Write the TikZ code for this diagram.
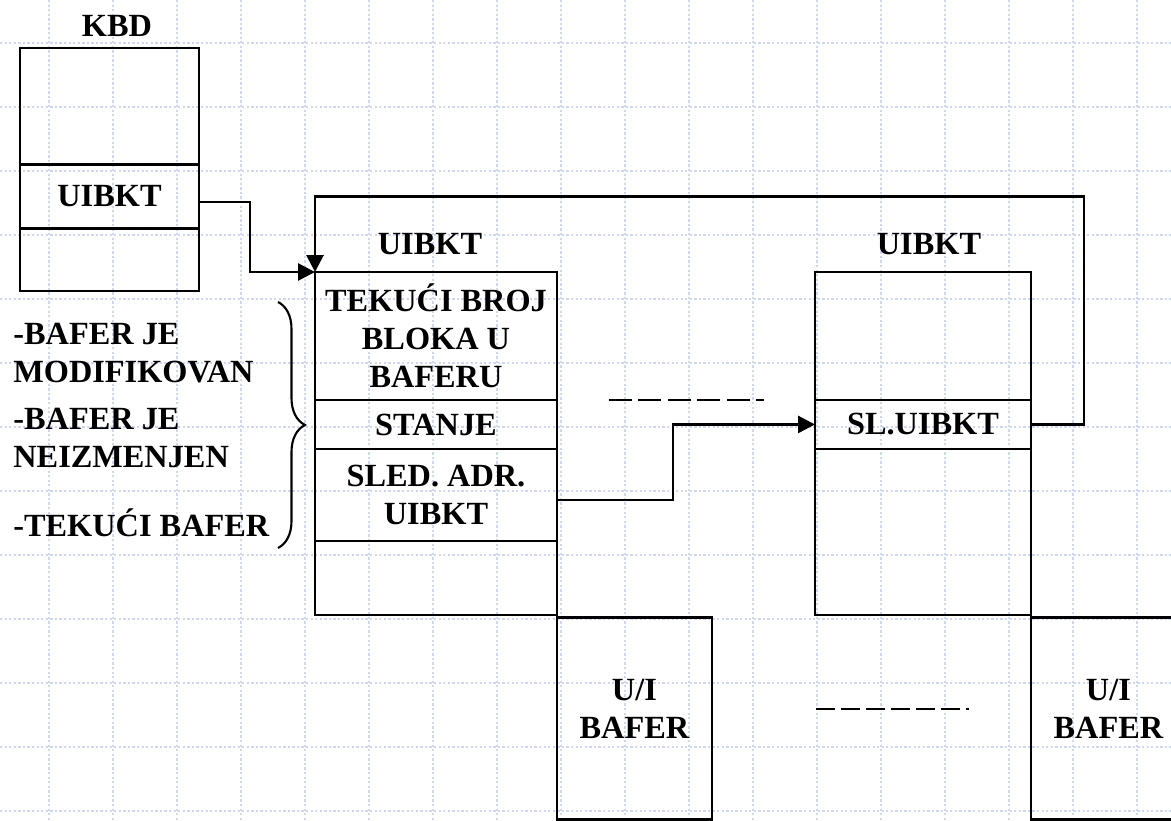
\documentclass[tikz,border=0pt]{standalone}
\usepackage{fontspec}
\setmainfont{Liberation Serif}
\usetikzlibrary{arrows.meta, positioning, decorations.pathreplacing}

\definecolor{gridblue}{RGB}{203,214,248}
\newcommand{\boxfont}{\fontsize{18.4pt}{21.6pt}\selectfont\bfseries}

\tikzset{
  field/.style={draw, line width=1.6pt, inner sep=0pt, outer sep=0pt, align=center, font=\boxfont},
  lbl/.style={inner sep=0pt, font=\boxfont},
  link/.style={line width=1.6pt, -{Triangle[length=0.34cm,width=0.34cm]}},
  gridline/.style={gridblue, line width=0.75pt, dash pattern=on 1.3pt off 1.3pt},
  dots/.style={line width=1.6pt},
}

\begin{document}
\begin{tikzpicture}[x=0.02cm, y=-0.02cm]
  \clip (0,0) rectangle (1171,821);
  \fill[white] (0,0) rectangle (1171,821);
  % grid
  \foreach \gx in {49,113,...,1137}
    \draw[gridline] (\gx,0) -- (\gx,821);
  \foreach \gy in {43,107,...,811}
    \draw[gridline] (0,\gy) -- (1171,\gy);

  % KBD
  \node[field, minimum width=3.58cm, minimum height=2.33cm, anchor=north west] (kbdTop) at (20,48) {};
  \node[field, minimum width=3.58cm, minimum height=1.28cm, below=0pt of kbdTop] (kbdU) {UIBKT};
  \node[field, minimum width=3.58cm, minimum height=1.25cm, below=0pt of kbdU] (kbdEnd) {};
  \node[lbl, above=0.23cm of kbdTop, xshift=0.15cm] (kbd) {KBD};

  % first UIBKT
  \node[field, minimum width=4.84cm, minimum height=2.56cm, anchor=north west] (tekuci) at (315,272) {TEKUĆI BROJ\\BLOKA U\\BAFERU};
  \node[field, minimum width=4.84cm, minimum height=0.98cm, below=0pt of tekuci] (stanje) {STANJE};
  \node[field, minimum width=4.84cm, minimum height=1.84cm, below=0pt of stanje] (sled) {SLED. ADR.\\UIBKT};
  \node[field, minimum width=4.84cm, minimum height=1.48cm, below=0pt of sled] (uibEnd) {};
  \node[lbl, above=0.34cm of tekuci, xshift=-0.12cm] (uibA) {UIBKT};

  % next UIBKT
  \node[field, minimum width=4.32cm, minimum height=2.56cm, anchor=north west] (slTop) at (815,272) {};
  \node[field, minimum width=4.32cm, minimum height=0.98cm, below=0pt of slTop] (slu) {SL.UIBKT};
  \node[field, minimum width=4.32cm, minimum height=3.32cm, below=0pt of slu] (slEnd) {};
  \node[lbl, above=0.34cm of slTop, xshift=0.12cm] (uibB) {UIBKT};

  % buffers
  \node[field, minimum width=3.1cm, minimum height=4.04cm, text depth=0.4cm, anchor=north west] (bufA) at ([yshift=-0.05cm]uibEnd.south east) {U/I\\BAFER};
  \node[field, minimum width=3.1cm, minimum height=4.04cm, text depth=0.4cm, anchor=north west] (bufB) at ([yshift=-0.05cm]slEnd.south east) {U/I\\BAFER};

  % states
  \node[lbl, anchor=west, align=left] (stMod) at (13,353) {-BAFER JE\\MODIFIKOVAN};
  \node[lbl, anchor=west, align=left] (stNeiz) at (13,438) {-BAFER JE\\NEIZMENJEN};
  \node[lbl, anchor=west, align=left] (stTek) at (13,523) {-TEKUĆI BAFER};
  \draw[line width=1.2pt, decorate, decoration={brace, amplitude=0.54cm}] (278,302) -- (278,548);

  % links
  \draw[link] ([yshift=-0.11cm]kbdU.east) -- ++(51,0) |- (tekuci.north west);
  \draw[link] ([yshift=-0.1cm]sled.east) -- ++(116,0) |- (slu.west);
  \draw[link] (slu.east) -- ++(53,0) -- ++(0,-228) -| (tekuci.north west);

  \draw[dots, dash pattern=on 0.46cm off 0.13cm] (609,400) -- (764,400);
  \draw[dots, dash pattern=on 0.38cm off 0.12cm] (816,709) -- (969,709);
\end{tikzpicture}
\end{document}
